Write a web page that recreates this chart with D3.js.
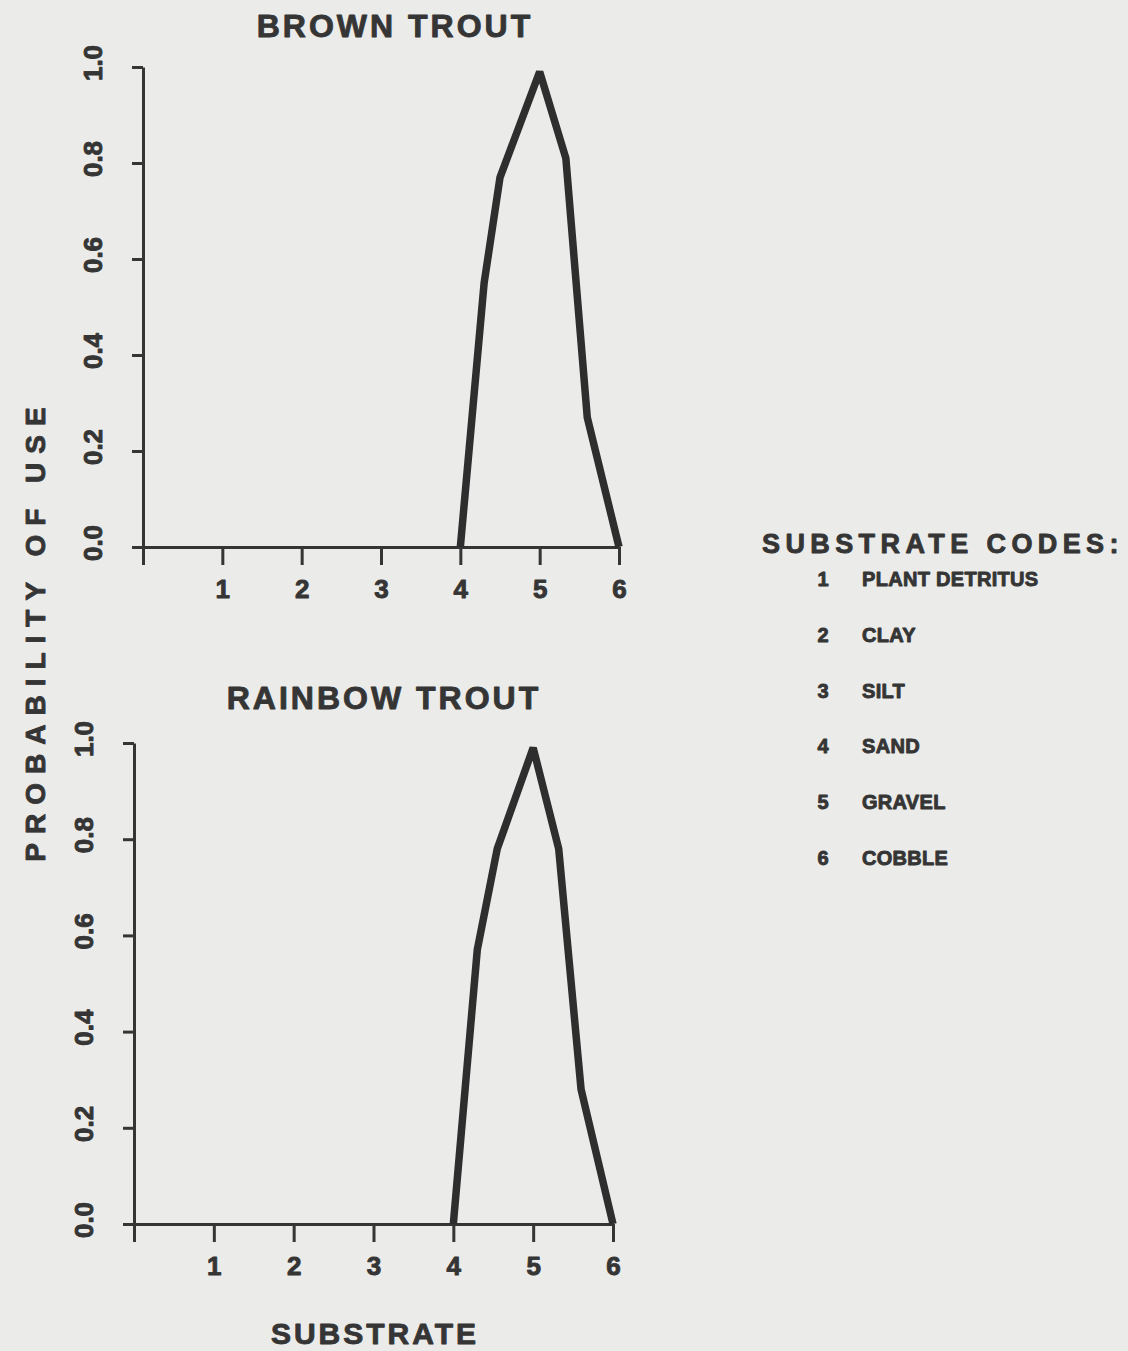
<!DOCTYPE html>
<html>
<head>
<meta charset="utf-8">
<script src="https://cdn.jsdelivr.net/npm/d3@7"></script>
<style>
  html, body { margin: 0; padding: 0; background: #ebebe9; }
  svg { display: block; }
  text { font-family: "Liberation Sans", Arial, Helvetica, sans-serif; font-weight: bold; fill: #353535;
         stroke: #353535; stroke-width: 0.9px; stroke-linejoin: round; }
</style>
</head>
<body>
<script>
// ---- data ----
const xTicks = [0, 1, 2, 3, 4, 5, 6];
const yTicks = [0, 0.2, 0.4, 0.6, 0.8, 1.0];
const brownX = [4, 4.3, 4.5, 5, 5.33, 5.6, 6];
const brownY = [0, 0.55, 0.77, 0.99, 0.81, 0.27, 0];
const rainbowX = [4, 4.3, 4.55, 5, 5.32, 5.6, 6];
const rainbowY = [0, 0.57, 0.78, 0.99, 0.78, 0.28, 0];
const codeNums = [1, 2, 3, 4, 5, 6];
const codeNames = ["PLANT DETRITUS", "CLAY", "SILT", "SAND", "GRAVEL", "COBBLE"];
const titles = ["BROWN TROUT", "RAINBOW TROUT"];

const W = 1128, H = 1351;
const ink = "#353535";
const svg = d3.select("body").append("svg").attr("width", W).attr("height", H);
svg.append("rect").attr("width", W).attr("height", H).attr("fill", "#ebebe9");

const panels = [
  { title: titles[0], xs: brownX, ys: brownY, left: 143, right: 619, top: 67, bottom: 547, titleX: 395, titleY: 37 },
  { title: titles[1], xs: rainbowX, ys: rainbowY, left: 134, right: 613, top: 743, bottom: 1224, titleX: 384, titleY: 709 }
];

panels.forEach(p => {
  const x = d3.scaleLinear().domain([0, 6]).range([p.left, p.right]);
  const y = d3.scaleLinear().domain([0, 1]).range([p.bottom, p.top]);
  const g = svg.append("g");

  // title
  g.append("text").attr("x", p.titleX).attr("y", p.titleY)
    .attr("text-anchor", "middle").attr("font-size", 32)
    .attr("letter-spacing", "3px").text(p.title);

  // x axis
  const xa = g.append("g").attr("transform", `translate(0,${p.bottom})`)
    .call(d3.axisBottom(x).tickValues(xTicks).tickSize(18).tickSizeOuter(0)
      .tickFormat(d => d === 0 ? "" : d3.format("d")(d)));
  // y axis
  const ya = g.append("g").attr("transform", `translate(${p.left},0)`)
    .call(d3.axisLeft(y).tickValues(yTicks).tickSize(11).tickSizeOuter(0).tickFormat(""));

  [xa, ya].forEach(a => {
    a.select(".domain").attr("stroke", ink).attr("stroke-width", 3);
    a.selectAll(".tick line").attr("stroke", ink).attr("stroke-width", 3);
  });
  xa.selectAll(".tick text").attr("fill", ink).attr("font-size", 26)
    .attr("font-family", "Liberation Sans, Arial, sans-serif").attr("font-weight", "bold")
    .attr("y", 33).attr("dy", "0.71em");

  // y tick labels (rotated)
  g.selectAll("text.ylab").data(yTicks).join("text").attr("class", "ylab")
    .attr("transform", d => `translate(${p.left - 41},${y(d) - 4}) rotate(-90)`)
    .attr("text-anchor", "middle").attr("font-size", 26)
    .text(d => d3.format(".1f")(d));

  // curve
  const pts = p.xs.map((v, i) => [v, p.ys[i]]);
  g.append("path").datum(pts)
    .attr("fill", "none").attr("stroke", "#2e2e2e").attr("stroke-width", 7.5)
    .attr("stroke-linejoin", "miter").attr("stroke-miterlimit", 3)
    .attr("d", d3.line().x(d => x(d[0])).y(d => y(d[1])));
});

// axis titles
svg.append("text").attr("x", 375).attr("y", 1344).attr("text-anchor", "middle")
  .attr("font-size", 30).attr("letter-spacing", "3px").text("SUBSTRATE");
svg.append("text").attr("transform", "translate(45,630) rotate(-90)")
  .attr("text-anchor", "middle").attr("font-size", 28).attr("letter-spacing", "9px")
  .text("PROBABILITY OF USE");

// legend
svg.append("text").attr("x", 762).attr("y", 553).attr("font-size", 27)
  .attr("letter-spacing", "5.4px").text("SUBSTRATE CODES:");
const lg = svg.append("g");
lg.selectAll("text.num").data(codeNums).join("text").attr("class", "num")
  .attr("x", 823).attr("y", (d, i) => 586 + i * 55.8).attr("text-anchor", "middle")
  .attr("font-size", 20).text(d => d);
lg.selectAll("text.name").data(codeNames).join("text").attr("class", "name")
  .attr("x", 862).attr("y", (d, i) => 586 + i * 55.8)
  .attr("font-size", 20).attr("letter-spacing", "0.3px").text(d => d);
</script>
</body>
</html>
